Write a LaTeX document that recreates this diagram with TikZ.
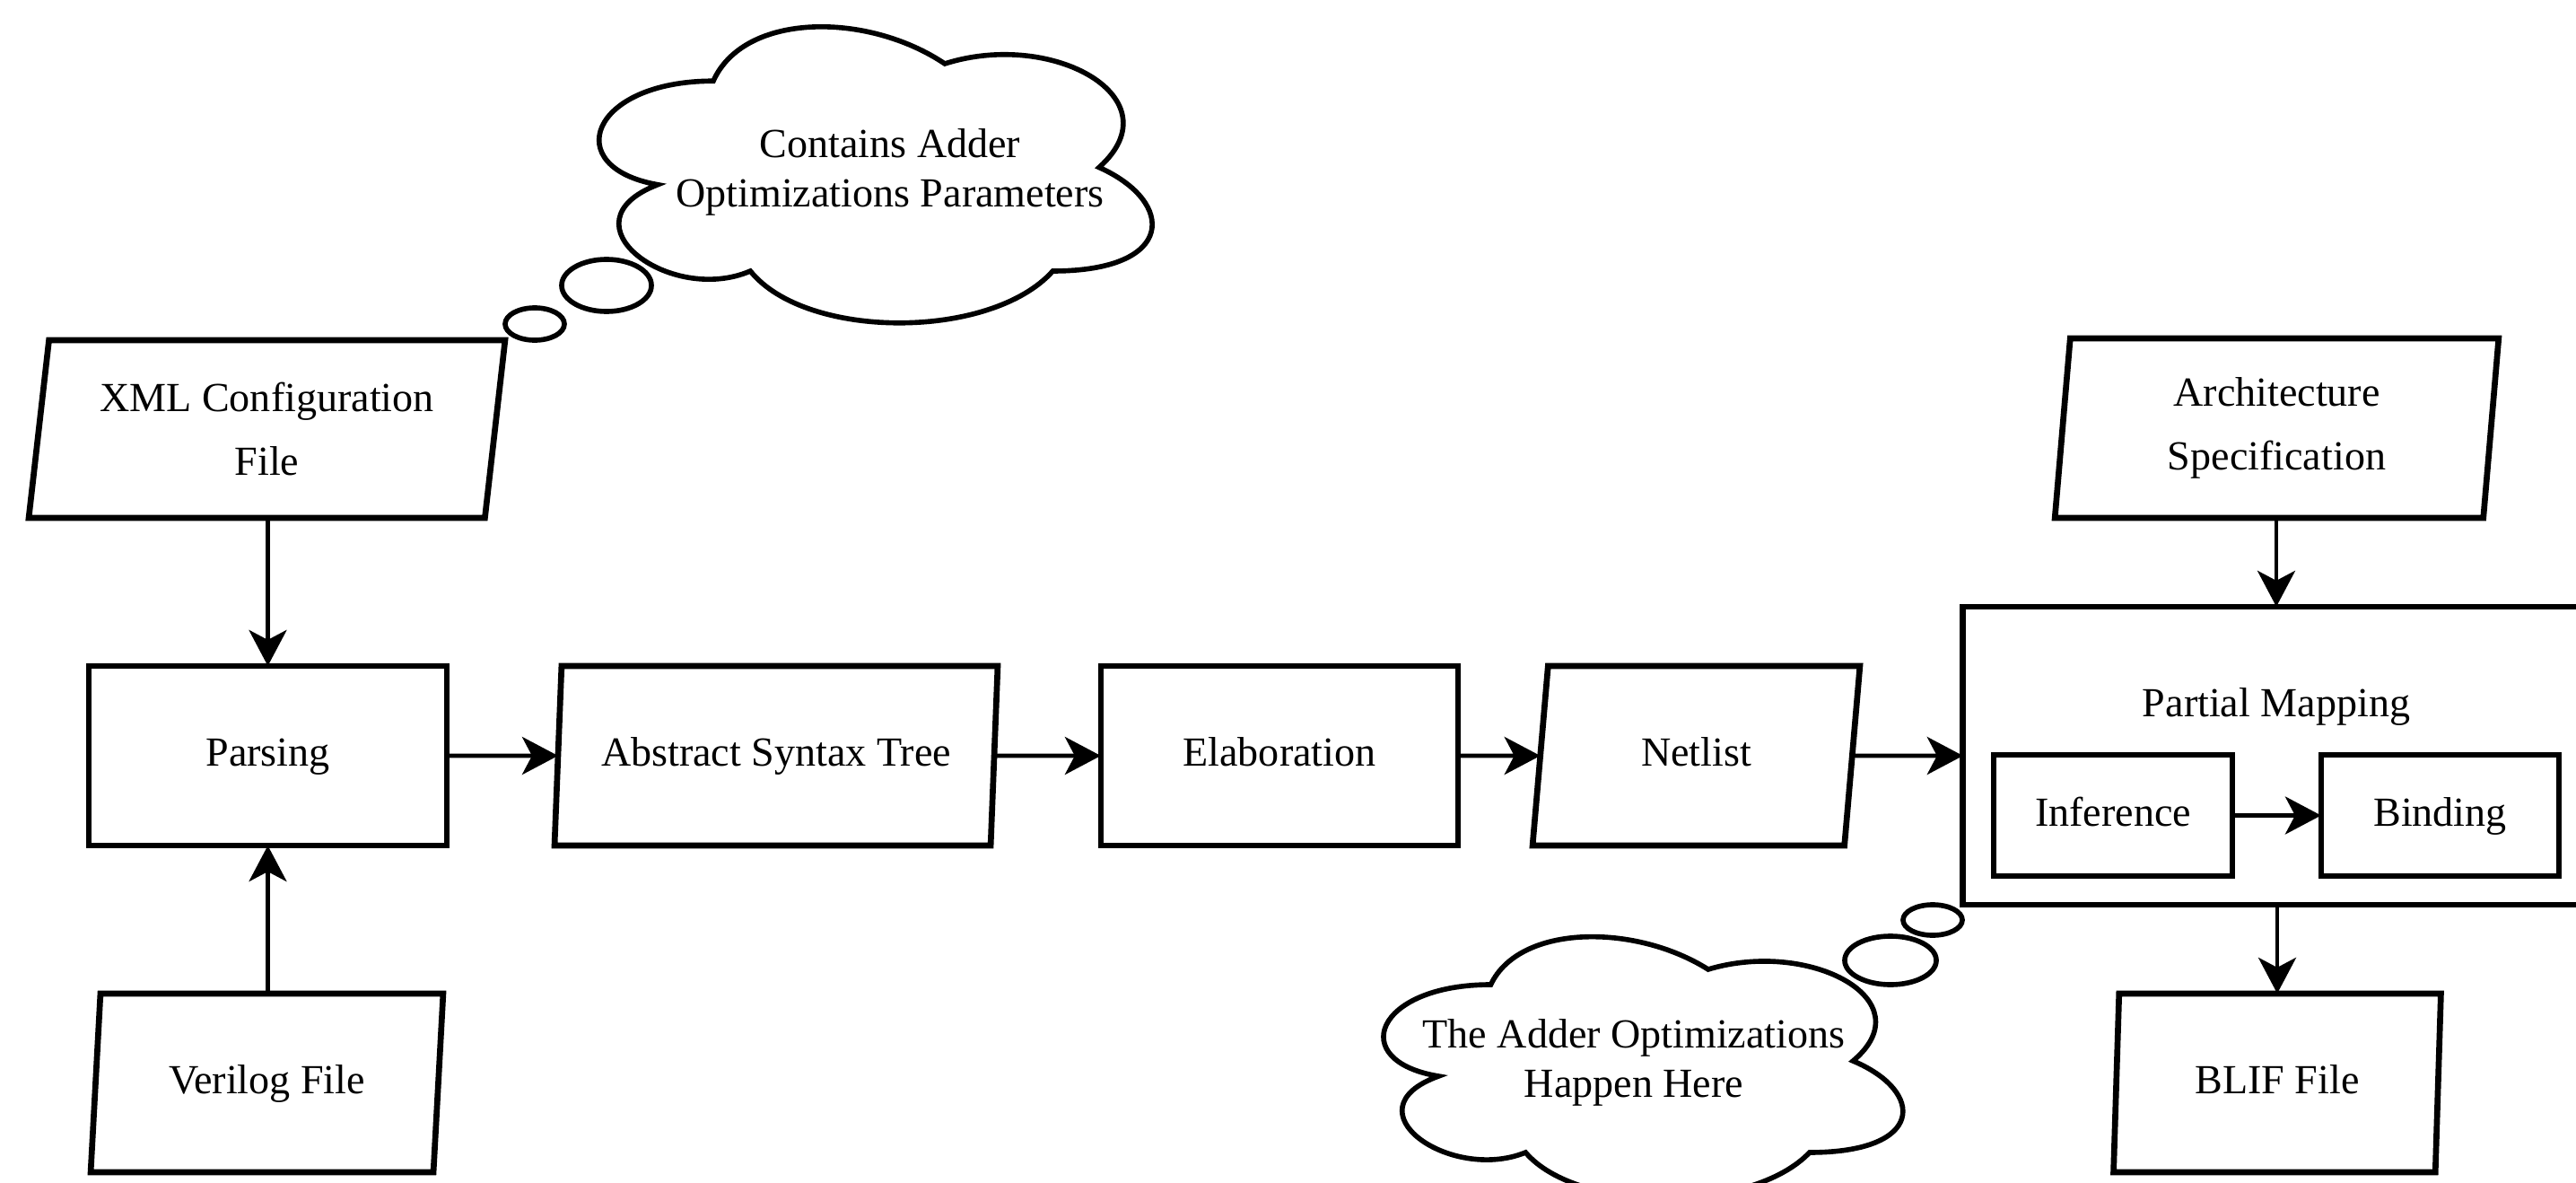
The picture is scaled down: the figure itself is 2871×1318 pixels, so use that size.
\documentclass[tikz,border=0pt]{standalone}
\usepackage{fontspec}
\setmainfont{Liberation Serif}
\usetikzlibrary{arrows.meta,shapes.geometric,calc}

\begin{document}
\begin{tikzpicture}[x=0.01cm,y=-0.01cm,
  every node/.style={font=\fontsize{13.1pt}{15.7pt}\selectfont, inner sep=0pt, outer sep=0pt},
  box/.style={draw, line width=1.9pt, rectangle, align=center},
  para/.style={draw, line width=1.9pt, trapezium, trapezium stretches=true, align=center},
  oneline/.style={text height=0.9em, text depth=0.24em},
  steep/.style={trapezium left angle=80.9, trapezium right angle=99.1},
  mild/.style={trapezium left angle=85.4, trapezium right angle=94.6},
  arr/.style={line width=1.3pt, -{Stealth[length=0.40cm,width=0.42cm,inset=0.11cm]}},
  cloudline/.style={line width=1.6pt},
  lbl/.style={align=center}
]
\useasboundingbox (0,0) rectangle (2871,1318);
\clip (0,0) rectangle (2871,1318);

% main flow
\node[para, trapezium left angle=80.5, trapezium right angle=99.5,
      minimum width=5.31cm, minimum height=1.98cm] (xml) at (297.5,478) {XML Configuration\\[4.3pt]File};
\node[box, oneline, minimum width=3.99cm, minimum height=2.0cm] (parsing) at (298.5,842) {Parsing};
\node[para, steep, oneline, minimum width=3.95cm, minimum height=1.99cm] (verilog) at (297.5,1206.5) {Verilog File};
\node[para, steep, oneline, minimum width=4.94cm, minimum height=2.0cm] (ast) at (865,842) {Abstract Syntax Tree};
\node[box, oneline, minimum width=3.98cm, minimum height=2.0cm] (elab) at (1426,842) {Elaboration};
\node[para, steep, oneline, minimum width=3.65cm, minimum height=2.0cm] (netlist) at (1890.5,842) {Netlist};
\node[box, minimum width=6.98cm, minimum height=3.32cm] (pm) at (2537,842) {};
\node[lbl, oneline] (pmlabel) at (2537,787) {Partial Mapping};
\node[box, oneline, minimum width=2.66cm, minimum height=1.35cm] (inf) at (2355,908.5) {Inference};
\node[box, oneline, minimum width=2.65cm, minimum height=1.35cm] (bind) at (2719.5,908.5) {Binding};
\node[para, mild, minimum width=4.97cm, minimum height=2.0cm] (arch) at (2537.5,477) {Architecture\\[4.3pt]Specification};
\node[para, mild, oneline, minimum width=3.66cm, minimum height=1.99cm] (blif) at (2538,1206.5) {BLIF File};

% connectors
\draw[arr] (xml.south -| parsing.north) -- (parsing.north);
\draw[arr] (verilog.north -| parsing.south) -- (parsing.south);
\draw[arr] (parsing) -- (ast);
\draw[arr] (ast) -- (elab);
\draw[arr] (elab) -- (netlist);
\draw[arr] (netlist) -- (pm);
\draw[arr] (arch.south -| pm.north) -- (pm.north);
\draw[arr] (pm.south -| blif.south) -- (blif.north -| blif.south);
\draw[arr] (inf) -- (bind);

% thought cloud 1
\begin{scope}[shift={(623,-6)}, xscale=688, yscale=385]
\draw[cloudline] (0.25,0.25) .. controls (0.05,0.25) and (0,0.5) .. (0.16,0.55)
  .. controls (0,0.66) and (0.18,0.9) .. (0.31,0.8)
  .. controls (0.4,1) and (0.7,1) .. (0.8,0.8)
  .. controls (1,0.8) and (1,0.6) .. (0.875,0.5)
  .. controls (1,0.3) and (0.8,0.1) .. (0.625,0.2)
  .. controls (0.5,0.05) and (0.3,0.05) .. (0.25,0.25) -- cycle;
\end{scope}
\node[lbl] (c1text) at (992,192) {Contains Adder\\Optimizations Parameters};
\draw[cloudline] (676,318) ellipse [x radius=0.50cm, y radius=0.29cm];
\draw[cloudline] (596,361) ellipse [x radius=0.33cm, y radius=0.18cm];

% thought cloud 2
\begin{scope}[shift={(1500,1012)}, xscale=646, yscale=340]
\draw[cloudline] (0.25,0.25) .. controls (0.05,0.25) and (0,0.5) .. (0.16,0.55)
  .. controls (0,0.66) and (0.18,0.9) .. (0.31,0.8)
  .. controls (0.4,1) and (0.7,1) .. (0.8,0.8)
  .. controls (1,0.8) and (1,0.6) .. (0.875,0.5)
  .. controls (1,0.3) and (0.8,0.1) .. (0.625,0.2)
  .. controls (0.5,0.05) and (0.3,0.05) .. (0.25,0.25) -- cycle;
\end{scope}
\node[lbl] (c2text) at (1821,1184) {The Adder Optimizations\\Happen Here};
\draw[cloudline] (2107,1070) ellipse [x radius=0.51cm, y radius=0.27cm];
\draw[cloudline] (2154,1025) ellipse [x radius=0.33cm, y radius=0.17cm];
\end{tikzpicture}
\end{document}
